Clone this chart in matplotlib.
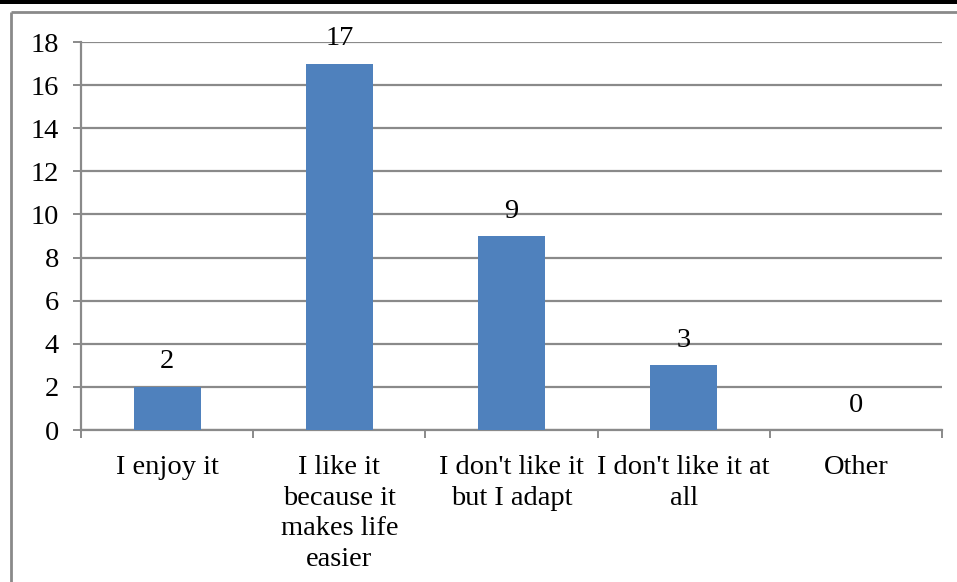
import matplotlib.pyplot as plt
from matplotlib.lines import Line2D
from matplotlib.patches import Rectangle

categories = ["I enjoy it", "I like it\nbecause it\nmakes life\neasier",
              "I don't like it\nbut I adapt", "I don't like it at\nall", "Other"]
counts = [2, 17, 9, 3, 0]
yticks = [0, 2, 4, 6, 8, 10, 12, 14, 16, 18]

plt.rcParams['font.family'] = ['Liberation Serif', 'DejaVu Serif']
grid_col = '#8a8a8a'
fs = 20.5

fig = plt.figure(figsize=(9.57, 5.82), dpi=100)
W, H = 957, 582
ax = fig.add_axes([81 / W, 1 - 430 / H, (942 - 81) / W, (430 - 42) / H])

x = list(range(len(categories)))
ax.bar(x, counts, width=0.39, color='#4f81bd', zorder=3)
for xi, v in zip(x, counts):
    ax.annotate(str(v), (xi, v), xytext=(0, 9), textcoords='offset points',
                ha='center', va='bottom', fontsize=fs)

ax.set_xlim(-0.5, len(categories) - 0.5)
ax.set_ylim(0, 18)
ax.set_yticks(yticks)
ax.tick_params(axis='y', length=6, width=1.4, color=grid_col, labelsize=fs, pad=10)
ax.yaxis.grid(True, color=grid_col, lw=1.6, zorder=0)

# category ticks sit on the boundaries, labels in the middle
ax.set_xticks([i - 0.5 for i in range(len(categories) + 1)])
ax.set_xticklabels([])
ax.set_xticks(x, minor=True)
ax.set_xticklabels(categories, minor=True, fontsize=fs, linespacing=1.3)
ax.tick_params(axis='x', which='major', length=6, width=1.4, color=grid_col)
ax.tick_params(axis='x', which='minor', length=0, pad=18)

for s in ['top', 'right']:
    ax.spines[s].set_visible(False)
for s in ['left', 'bottom']:
    ax.spines[s].set_color(grid_col)
    ax.spines[s].set_linewidth(1.6)

# frame around the chart and the dark band on top
fig.add_artist(Rectangle((0, 1 - 4 / H), 1, 4 / H, transform=fig.transFigure,
                         color='black', lw=0))
fig.add_artist(Line2D([11 / W, 11 / W], [0, 1 - 12 / H], color='#8a8a8a', lw=2,
                      solid_capstyle='butt'))
fig.add_artist(Line2D([11 / W, 1.01], [1 - 12 / H, 1 - 12 / H], color='#8a8a8a', lw=2,
                      solid_capstyle='butt'))

fig.savefig('out.png', dpi=100)
